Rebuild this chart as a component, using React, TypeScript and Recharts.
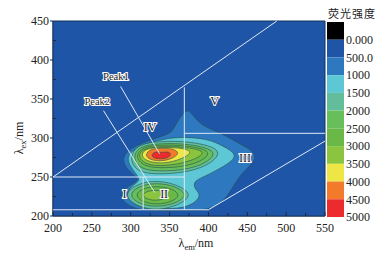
import React from "react";
import { ScatterChart, Scatter, XAxis, YAxis, BarChart, Bar } from "recharts";

// === contour outlines, [lambda em, lambda ex] ===

const frame = [[200, 200], [550, 200], [550, 450], [200, 450]];

const contour500 = [[312, 247], [303, 242], [290, 233], [287, 223], [296, 214], [312, 207], [351, 207], [400, 207], [418, 217], [430, 234], [441, 254], [465, 274], [453, 286], [441, 292], [421, 304], [396, 314], [385, 322], [374, 338], [367, 331], [358, 318], [353, 306], [335, 301], [305, 290], [291, 279], [290, 268], [299, 256]];
const contour1000 = [[314, 246], [303, 258], [295, 272], [299, 282], [314, 290], [335, 297], [361, 302], [400, 299], [418, 290], [440, 278], [421, 264], [396, 251], [379, 244], [384, 233], [390, 227], [384, 218], [369, 210], [338, 209], [312, 211], [298, 220], [295, 231], [303, 240]];

const upper1500 = [[298, 274], [308, 292], [338, 296], [376, 296], [425, 285], [393, 259], [344, 253], [308, 255]];
const upper2000 = [[302, 276], [312, 290], [338, 293], [374, 293], [418, 283], [387, 261], [344, 257], [312, 259]];
const upper2500 = [[305, 277], [316, 289], [338, 291], [370, 291], [410, 283], [383, 265], [344, 261], [316, 263]];
const upper3000 = [[308, 277], [317, 287], [338, 289], [366, 289], [402, 283], [376, 269], [344, 264], [320, 265]];
const upper3500 = [[312, 278], [320, 287], [338, 288], [361, 288], [382, 283], [366, 273], [344, 267], [322, 269]];
const upper4000 = [[318, 278], [325, 286], [338, 287], [353, 287], [364, 281], [353, 273], [338, 270], [325, 272]];
const upper4500 = [[326, 278], [331, 283], [340, 281], [348, 283], [353, 279], [347, 274], [338, 273], [330, 274]];

const lower1500 = [[287, 227], [314, 245], [350, 245], [386, 227], [350, 208], [314, 208]];
const lower2000 = [[294, 227], [316, 242], [350, 242], [378, 227], [350, 212], [316, 212]];
const lower2500 = [[303, 227], [319, 238], [348, 238], [367, 227], [348, 215], [319, 215]];
const lower3000 = [[313, 227], [323, 233], [340, 233], [351, 227], [340, 220], [323, 220]];

// === white region lines ===

const regionLines = [
  [[200, 250], [488, 450]],
  [[200, 250], [369, 250]],
  [[200, 208], [400, 208]],
  [[400, 208], [550, 296]],
  [[369, 208], [369, 365]],
  [[316, 208], [316, 250]],
  [[369, 306], [550, 306]],
  [[287, 366], [337, 280]],
  [[265, 335], [331, 230]],
];

const annotations = [
  { em: 281, ex: 380, text: "Peak1" },
  { em: 257, ex: 347, text: "Peak2" },
  { em: 325, ex: 314, text: "IV" },
  { em: 408, ex: 348, text: "V" },
  { em: 447, ex: 274, text: "III" },
  { em: 292, ex: 228, text: "I" },
  { em: 343, ex: 228, text: "II" },
];

const xTicks = [200, 225, 250, 275, 300, 325, 350, 375, 400, 425, 450, 475, 500, 525, 550];
const yTicks = [200, 225, 250, 275, 300, 325, 350, 375, 400, 425, 450];

const barColors = ["#000000", "#1f55a6", "#2e78bf", "#5ec7d6", "#63bd9b", "#69be5c", "#69b848", "#8bc43f", "#ede645", "#f47a2b", "#ec2b2f"];
const barLabels = ["0.000", "500.0", "1000", "1500", "2000", "2500", "3000", "3500", "4000", "4500", "5000"];
const barTicks = [500, 1000, 1500, 2000, 2500, 3000, 3500, 4000, 4500, 5000, 5500];

const SERIF = '"Liberation Serif", serif';
const TEXT = "#222222";
const WHITE = "#dfe9f8";

const fills: { pts: number[][]; color: string }[] = [
  { pts: contour500, color: barColors[2] },
  { pts: contour1000, color: barColors[3] },
  { pts: upper1500, color: barColors[4] },
  { pts: upper2000, color: barColors[5] },
  { pts: upper2500, color: barColors[6] },
  { pts: upper3000, color: barColors[7] },
  { pts: upper3500, color: barColors[8] },
  { pts: upper4000, color: barColors[9] },
  { pts: upper4500, color: barColors[10] },
  { pts: lower1500, color: barColors[4] },
  { pts: lower2000, color: barColors[5] },
  { pts: lower2500, color: barColors[6] },
  { pts: lower3000, color: barColors[7] },
];

const toRows = (pts: number[][]) => pts.map(([em, ex]) => ({ em, ex }));

const noDot = () => <g />;

function XTick({ x, y, payload }: any) {
  const major = payload.value % 50 === 0;
  return (
    <g>
      <line x1={x} x2={x} y1={y} y2={y - (major ? 4 : 3)} stroke="#1a2a40" />
      {major && (
        <text x={x} y={y + 15.5} textAnchor="middle" fontFamily={SERIF} fontSize={12} fill={TEXT}>
          {payload.value}
        </text>
      )}
    </g>
  );
}

function YTick({ x, y, payload }: any) {
  const major = payload.value % 50 === 0;
  return (
    <g>
      {major ? (
        <line x1={x - 3} x2={x} y1={y} y2={y} stroke="#1a2a40" />
      ) : (
        <line x1={x} x2={x + 3} y1={y} y2={y} stroke="#1a2a40" />
      )}
      {major && (
        <text x={x - 4} y={y + 4} textAnchor="end" fontFamily={SERIF} fontSize={12} fill={TEXT}>
          {payload.value}
        </text>
      )}
    </g>
  );
}

function Note({ cx, cy, text }: any) {
  return (
    <text
      x={cx}
      y={cy + 4}
      textAnchor="middle"
      fontFamily={SERIF}
      fontSize={text.length > 3 ? 10.5 : 12}
      fill="#1a1a1a"
      stroke="#ffffff"
      strokeWidth={2}
      paintOrder="stroke"
    >
      {text}
    </text>
  );
}

function Colorbar() {
  const row: any = { name: "level" };
  barColors.forEach((_, i) => {
    row["s" + i] = 500;
  });
  return (
    <BarChart
      width={55}
      height={254}
      data={[row]}
      margin={{ top: 22, right: 0, bottom: 37, left: 0 }}
      barCategoryGap={0}
    >
      <XAxis dataKey="name" hide />
      <YAxis
        orientation="right"
        reversed
        type="number"
        domain={[0, 5500]}
        ticks={barTicks}
        interval={0}
        width={38}
        axisLine={false}
        tickLine={false}
        tickSize={0}
        tickMargin={2}
        tick={{ fill: TEXT, fontSize: 12, fontFamily: SERIF }}
        tickFormatter={(v: number) => barLabels[barTicks.indexOf(v)]}
      />
      {barColors.map((c, i) => (
        <Bar key={c} dataKey={"s" + i} stackId="a" fill={c} isAnimationActive={false} />
      ))}
    </BarChart>
  );
}

export default function App() {
  return (
    <div style={{ position: "absolute", left: 0, top: 0, width: 382, height: 254, background: "#fff" }}>
      <ScatterChart width={382} height={254} margin={{ top: 21, right: 57, bottom: 0, left: 0 }}>
        <XAxis
          type="number"
          dataKey="em"
          domain={[200, 550]}
          ticks={xTicks}
          interval={0}
          height={38}
          tick={<XTick />}
          tickLine={false}
          tickSize={0}
          tickMargin={0}
          axisLine={{ stroke: "#1a2a40" }}
          label={(props: any) => (
            <text x={196} y={247} textAnchor="middle" fontFamily={SERIF} fontSize={12} fill={TEXT}>
              λ<tspan dy={3} fontSize={8.5}>em</tspan>
              <tspan dy={-3}>/nm</tspan>
            </text>
          )}
        />
        <YAxis
          type="number"
          dataKey="ex"
          domain={[200, 450]}
          ticks={yTicks}
          interval={0}
          width={53}
          tick={<YTick />}
          tickLine={false}
          tickSize={0}
          tickMargin={0}
          axisLine={{ stroke: "#1a2a40" }}
          label={(props: any) => (
            <text x={23} y={138} textAnchor="middle" transform="rotate(-90 23 138)" fontFamily={SERIF} fontSize={12} fill={TEXT}>
              λ<tspan dy={3} fontSize={8.5}>ex</tspan>
              <tspan dy={-3}>/nm</tspan>
            </text>
          )}
        />
        <Scatter
          data={toRows(frame)}
          shape={noDot}
          isAnimationActive={false}
          lineJointType="linearClosed"
          line={{ fill: barColors[1], stroke: "#17335f", strokeWidth: 1 }}
        />
        {fills.map((f, i) => (
          <Scatter
            key={i}
            data={toRows(f.pts)}
            shape={noDot}
            isAnimationActive={false}
            lineJointType="basisClosed"
            line={{ fill: f.color, stroke: "#24504a", strokeWidth: 0.6 }}
          />
        ))}
        {regionLines.map((l, i) => (
          <Scatter
            key={"l" + i}
            data={toRows(l)}
            shape={noDot}
            isAnimationActive={false}
            line={{ stroke: WHITE, strokeWidth: 1 }}
          />
        ))}
        <Scatter data={annotations} isAnimationActive={false} shape={<Note />} />
      </ScatterChart>
      <div style={{ position: "absolute", left: 327, top: 0 }}>
        <Colorbar />
      </div>
      <div
        style={{
          position: "absolute",
          left: 328,
          top: 6,
          fontFamily: '"Noto Sans CJK SC"',
          fontSize: 11,
          letterSpacing: 1,
          lineHeight: "15px",
          whiteSpace: "nowrap",
          color: TEXT,
        }}
      >
        荧光强度
      </div>
    </div>
  );
}
